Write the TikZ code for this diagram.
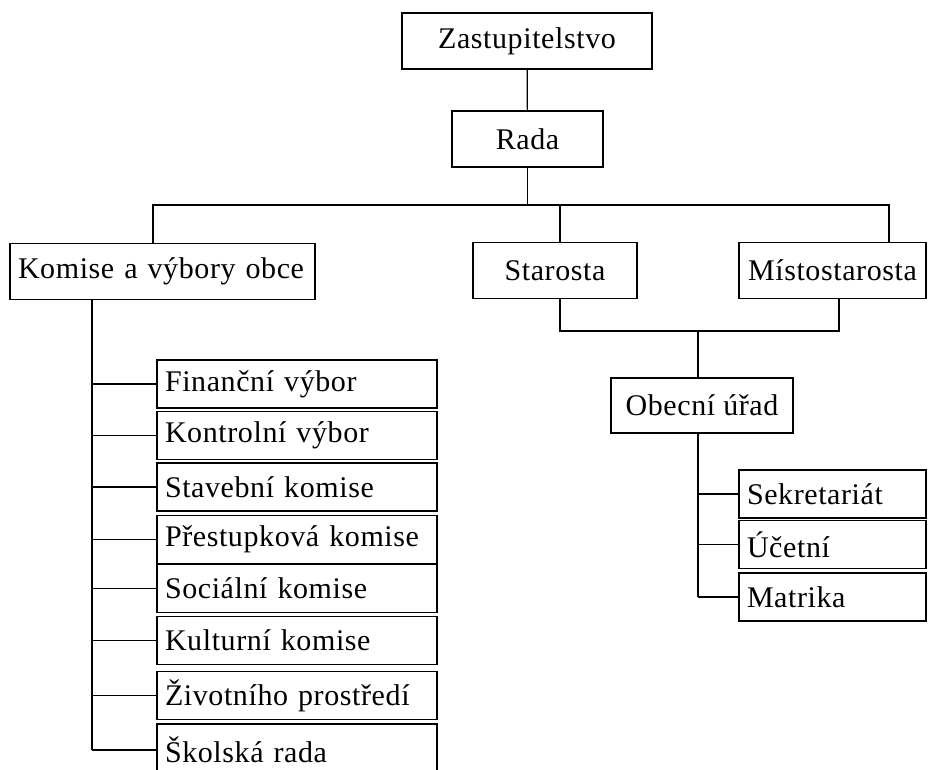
\documentclass[tikz,border=0pt]{standalone}
\usepackage{fontspec}
\setmainfont[LetterSpace=2]{Liberation Serif}
\usetikzlibrary{positioning}
\tikzstyle{unit}=[draw, rectangle, line width=1.2pt, inner sep=0pt, minimum height=56pt, font=\fontsize{30}{36}\selectfont]
\tikzstyle{item}=[unit, minimum height=48pt, text width=264pt, align=left, inner xsep=8pt]
\tikzstyle{link}=[draw=black, line width=1.2pt]

\begin{document}
\begin{tikzpicture}[x=1pt, y=-1pt]
            \useasboundingbox (0,0) rectangle (929,769);
            \clip (0,0) rectangle (929,769);

            \begin{scope}[every node/.style={unit}]
                \node[minimum width=250pt] (zast) at (527,41) {Zastupitelstvo};
                \node[minimum width=151pt] (rada) at (527.5,139) {Rada};
                \node[minimum width=305pt, text width=289pt, align=left, inner xsep=8pt] (komise) at (162.5,271.5) {Komise a výbory obce};
                \node[minimum width=164pt] (starosta) at (555,270.5) {Starosta};
                \node[minimum width=187pt] (misto) at (832.5,270.5) {Místostarosta};
                \node[minimum width=182pt, minimum height=55pt] (urad) at (702,405.5) {Obecní úřad};
            \end{scope}

            \begin{scope}[every node/.style={item}]
                \node (fin) at (297,384) {Finanční výbor};
                \node (kon) at (297,435.5) {Kontrolní výbor};
                \node (stav) at (297,487) {Stavební komise};
                \node (pres) at (297,539.5) {Přestupková komise};
                \node (soc) at (297,588.5) {Sociální komise};
                \node (kult) at (297,640.5) {Kulturní komise};
                \node (zp) at (297,695.5) {Životního prostředí};
                \node[minimum height=52pt] (skol) at (297,750) {Školská rada};
            \end{scope}

            \begin{scope}[every node/.style={item, text width=171pt}]
                \node (sekr) at (832.5,494) {Sekretariát};
                \node (ucet) at (832.5,544.5) {Účetní};
                \node (matr) at (832.5,597) {Matrika};
            \end{scope}

            % bus points
            \coordinate (b1) at (153,205);
            \coordinate (b2) at (560,205);
            \coordinate (b3) at (889,205);
            \coordinate (s1) at (560,331);
            \coordinate (s2) at (839,331);
            \coordinate (k) at (92,300);
            \coordinate (u) at (698,433);

            \begin{scope}[every path/.style={link}]
                \path (zast) -- (rada);
                \path (rada) -- (rada |- b1);
                \path (komise.north -| b1) -- (b1) -- (b3) -- (misto.north -| b3);
                \path (b2) -- (starosta.north -| b2);
                \path (starosta.south -| s1) -- (s1) -- (s2) -- (misto.south -| s2);
                \path (urad.north -| u) -- (u |- s1);
                \path (k) -- (k |- skol.west);
                \foreach \n in {fin,kon,stav,pres,soc,kult,zp,skol}
                    \path (k |- \n.west) -- (\n.west);
                \path (u) -- (u |- matr.west);
                \foreach \n in {sekr,ucet,matr}
                    \path (u |- \n.west) -- (\n.west);
            \end{scope}
        \end{tikzpicture}
\end{document}
